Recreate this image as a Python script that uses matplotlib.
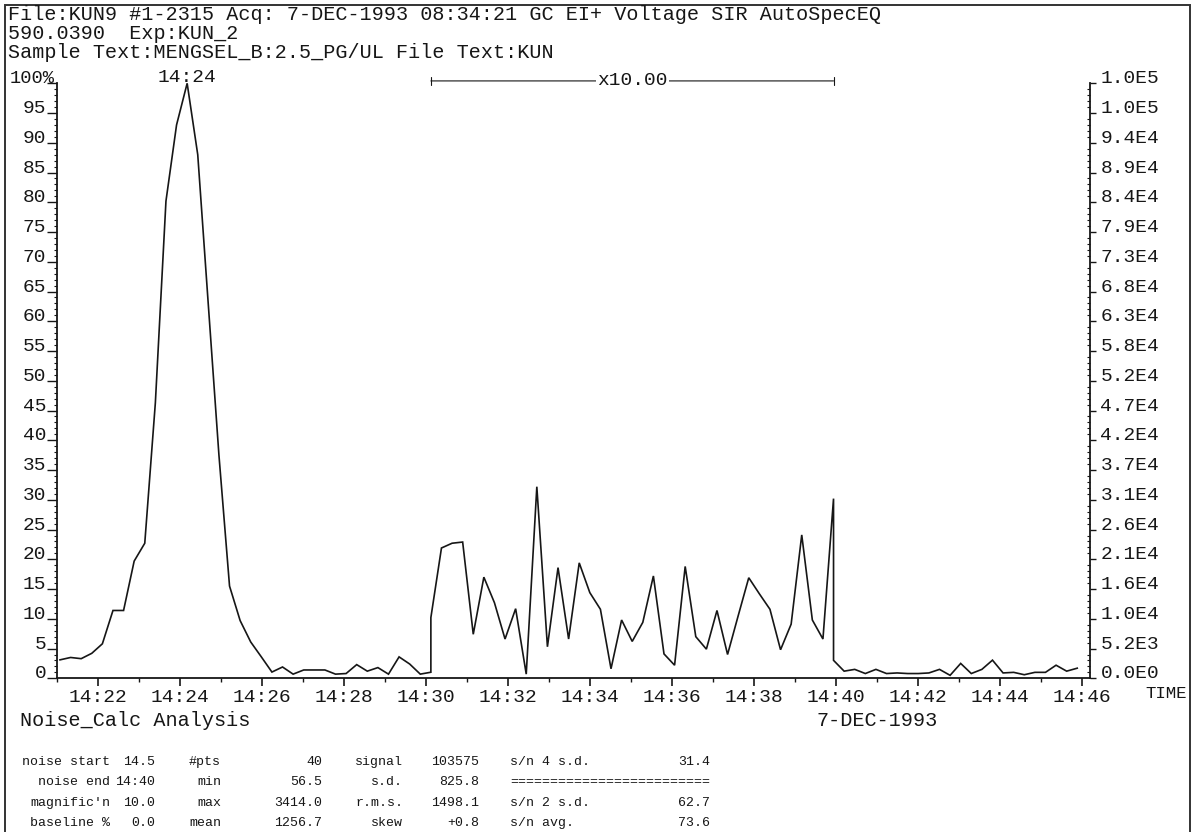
"""SIR chromatogram with Noise_Calc analysis panel (KUN9, 590.0390)."""

import matplotlib
matplotlib.use('Agg')
import matplotlib.pyplot as plt
import matplotlib.ticker as mticker
import matplotlib.transforms as mtransforms
from matplotlib.patches import Rectangle
import numpy as np

plt.rcParams.update({
    'font.family': 'Liberation Mono',
    'font.size': 14,
    'axes.linewidth': 1.3,
})

W, H = 1195, 832
INK = '#161616'

# --- trace data -----------------------------------------------------------
HOUR = 14
SCAN_START = 21.073      # minutes past the hour
SCAN_STEP = 0.2585       # minutes per scan
MAGNIFICATION = 10.0
MAG_FIRST, MAG_LAST = 35, 73   # scan indices of the x10 window

# relative intensity (%), unmagnified
intensity = [
    3.1, 3.5, 3.3, 4.2, 5.8, 11.4, 11.4, 19.7, 22.7, 46.3,
    80.2, 93.0, 100.0, 88.0, 62.7, 37.5, 15.5, 9.7, 6.1, 3.6,
    1.05, 1.9, 0.7, 1.4, 1.4, 1.4, 0.7, 0.8, 2.3, 1.2,
    1.8, 0.7, 3.6, 2.4, 0.7, 1.02,
    2.19, 2.27, 2.29, 0.74, 1.70, 1.27, 0.66, 1.17, 0.07, 3.22,
    0.53, 1.86, 0.66, 1.94, 1.44, 1.16, 0.16, 0.98, 0.62, 0.94,
    1.72, 0.41, 0.22, 1.88, 0.70, 0.49, 1.14, 0.40, 1.05, 1.69,
    1.42, 1.16, 0.48, 0.91, 2.41, 0.98, 0.66, 3.02,
    1.2, 1.5, 0.8, 1.5, 0.8, 0.9, 0.8, 0.8, 0.9, 1.5,
    0.5, 2.5, 0.8, 1.5, 3.05, 0.9, 1.0, 0.6, 1.0, 1.0,
    2.2, 1.2, 1.7,
]

pct_ticks = list(range(0, 101, 5))
count_labels = ['0.0E0', '5.2E3', '1.0E4', '1.6E4', '2.1E4', '2.6E4', '3.1E4',
                '3.7E4', '4.2E4', '4.7E4', '5.2E4', '5.8E4', '6.3E4', '6.8E4',
                '7.3E4', '7.9E4', '8.4E4', '8.9E4', '9.4E4', '1.0E5', '1.0E5']
time_major = list(range(22, 47, 2))
time_minor = list(range(21, 46, 2))

header_lines = [
    'File:KUN9 #1-2315 Acq: 7-DEC-1993 08:34:21 GC EI+ Voltage SIR AutoSpecEQ',
    '590.0390  Exp:KUN_2',
    'Sample Text:MENGSEL_B:2.5_PG/UL File Text:KUN',
]

table_rows = [
    ['noise start', '14.5', '#pts', '40', 'signal', '103575', 's/n 4 s.d.', '31.4'],
    ['noise end', '14:40', 'min', '56.5', 's.d.', '825.8', '=' * 25, ''],
    ["magnific'n", '10.0', 'max', '3414.0', 'r.m.s.', '1498.1', 's/n 2 s.d.', '62.7'],
    ['baseline %', '0.0', 'mean', '1256.7', 'skew', '+0.8', 's/n avg.', '73.6'],
]


def px(x, y):
    """Pixel position (from top-left) -> figure fraction."""
    return x / W, 1 - y / H


def hhmm(m, pos=None):
    return f'{HOUR}:{int(round(m)):02d}'


# x10 window shown with both edge scans drawn twice (raw and magnified)
raw = np.array(intensity)
t = SCAN_START + SCAN_STEP * np.arange(len(raw))
x_line = np.concatenate([t[:MAG_FIRST + 1], t[MAG_FIRST:MAG_LAST + 1], t[MAG_LAST:]])
y_line = np.concatenate([raw[:MAG_FIRST + 1],
                         raw[MAG_FIRST:MAG_LAST + 1] * MAGNIFICATION,
                         raw[MAG_LAST:]])

fig = plt.figure(figsize=(W / 100, H / 100), dpi=100)
x0, y0 = px(57, 678.3)
x1, y1 = px(1090, 83.3)
ax = fig.add_axes([x0, y0, x1 - x0, y1 - y0])

ax.plot(x_line, y_line, color=INK, lw=1.2, solid_joinstyle='miter')

ax.set_xlim(21.0, 46.2)
ax.set_ylim(0, 100)
for side in ('top', 'right'):
    ax.spines[side].set_visible(False)
for side in ('left', 'bottom'):
    ax.spines[side].set_color(INK)

ax.xaxis.set_major_locator(mticker.FixedLocator(time_major))
ax.xaxis.set_minor_locator(mticker.FixedLocator(time_minor))
ax.xaxis.set_major_formatter(mticker.FuncFormatter(hhmm))
ax.tick_params(axis='x', which='major', direction='out', length=6, width=1.2,
               pad=2, labelsize=14, colors=INK)
ax.tick_params(axis='x', which='minor', direction='out', length=3, width=1.0,
               colors=INK)

# 100% is written separately, further left, over its tick
ax.yaxis.set_major_locator(mticker.FixedLocator(pct_ticks))
ax.yaxis.set_minor_locator(mticker.MultipleLocator(1))
ax.set_yticklabels(['' if v == 100 else str(v) for v in pct_ticks])
ax.tick_params(axis='y', which='major', direction='out', length=7.2, width=1.0,
               pad=0.5, labelsize=14, colors=INK)
ax.tick_params(axis='y', which='minor', direction='out', length=2.2, width=0.8,
               colors=INK)
for lab in ax.get_yticklabels():
    lab.set_verticalalignment('baseline')
fig_x_data_y = mtransforms.blended_transform_factory(fig.transFigure, ax.transData)
fig.text(px(10, 0)[0], pct_ticks[-1], f'{pct_ticks[-1]}%', transform=fig_x_data_y,
         ha='left', va='baseline', fontsize=13.5, color=INK)

ax2 = ax.twinx()
ax2.set_ylim(0, 100)
for side in ('top', 'left', 'bottom'):
    ax2.spines[side].set_visible(False)
ax2.spines['right'].set_color(INK)
ax2.yaxis.set_major_locator(mticker.FixedLocator(pct_ticks))
ax2.yaxis.set_minor_locator(mticker.MultipleLocator(1))
ax2.set_yticklabels(count_labels)
ax2.tick_params(axis='y', which='major', direction='out', length=4.5, width=1.0,
                pad=3, labelsize=14, colors=INK)
ax2.tick_params(axis='y', which='minor', direction='in', length=2.2, width=0.8,
                colors=INK)
for lab in ax2.get_yticklabels():
    lab.set_verticalalignment('baseline')

# base peak retention time
i_peak = int(np.argmax(y_line))
ax.text(x_line[i_peak], 100.2, hhmm(x_line[i_peak] - 0.1), ha='center',
        va='baseline', fontsize=14, color=INK, clip_on=False)

# magnification bracket over the x10 window
ax.annotate('', xy=(t[MAG_FIRST], 1.004), xytext=(t[MAG_LAST], 1.004),
            xycoords=('data', 'axes fraction'),
            textcoords=('data', 'axes fraction'),
            arrowprops=dict(arrowstyle='|-|,widthA=0.2,widthB=0.2',
                            color=INK, lw=0.8, shrinkA=0, shrinkB=0))
ax.text((t[MAG_FIRST] + t[MAG_LAST]) / 2, 1.004, f'x{MAGNIFICATION:.2f}',
        transform=ax.get_xaxis_transform(), ha='center', va='center',
        fontsize=14, color=INK,
        bbox=dict(facecolor='white', edgecolor='none', pad=1))

# header block
for i, line in enumerate(header_lines):
    fig.text(*px(8, 15 + 18.5 * i), line, ha='left', va='center',
             fontsize=14.5, color=INK)

fig.text(*px(1187, 694), 'TIME', ha='right', va='center', fontsize=12.5,
         color=INK)
fig.text(*px(20, 720), 'Noise_Calc Analysis', ha='left', va='center',
         fontsize=14.5, color=INK)
fig.text(*px(817, 720), '7-DEC-1993', ha='left', va='center',
         fontsize=14.5, color=INK)

# noise statistics table
col_x = [110, 155, 221, 322, 403, 479, 510, 710]
col_ha = ['right', 'right', 'right', 'right', 'right', 'right', 'left', 'right']
for r, row in enumerate(table_rows):
    for c, cell in enumerate(row):
        if not cell:
            continue
        fig.text(*px(col_x[c], 762 + 20.3 * r), cell, ha=col_ha[c],
                 va='center', fontsize=9.5, color=INK)

# page frame
fig.patches.append(Rectangle(px(5, 840), (1190 - 5) / W, (840 - 5) / H,
                             transform=fig.transFigure, fill=False,
                             edgecolor='#333333', lw=1.4))

fig.savefig('out.png', dpi=100)
